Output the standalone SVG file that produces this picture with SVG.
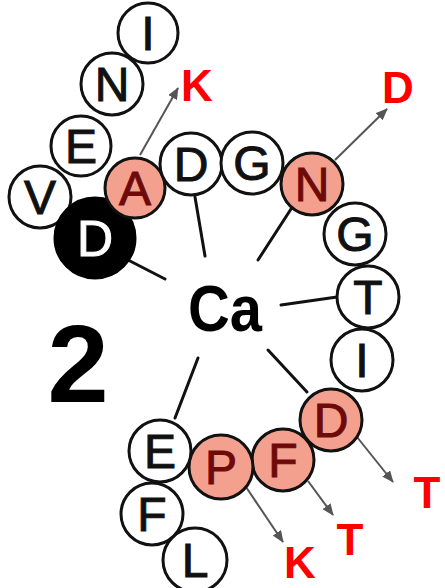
<svg xmlns="http://www.w3.org/2000/svg" width="445" height="588" viewBox="0 0 445 588">
<style>
.c{fill:#fff;stroke:#111;stroke-width:3}
.r{fill:#f4a08e;stroke:#111;stroke-width:3}
.k{fill:#000;stroke:#000;stroke-width:3}
.t{font-family:"Liberation Sans",Arial,sans-serif;font-size:48px;text-anchor:middle;fill:#111;stroke:#111;stroke-width:1}
.tr{font-family:"Liberation Sans",Arial,sans-serif;font-size:48px;text-anchor:middle;fill:#6e0a0a;stroke:#6e0a0a;stroke-width:1}
.tw{font-family:"Liberation Sans",Arial,sans-serif;font-size:50px;text-anchor:middle;fill:#fff;stroke:#fff;stroke-width:1}
.lab{font-family:"Liberation Sans",Arial,sans-serif;font-size:44px;font-weight:bold;text-anchor:middle;fill:#ff0000}
.sp{stroke:#111;stroke-width:3;stroke-linecap:round;fill:none}
.ar{stroke:#555;stroke-width:2;fill:none;marker-end:url(#ah)}
</style>
<defs>
<marker id="ah" viewBox="0 0 12 10" refX="11" refY="5" markerWidth="12" markerHeight="10" markerUnits="userSpaceOnUse" orient="auto">
<path d="M0,0 L12,5 L0,10 Z" fill="#555"/>
</marker>
</defs>
<g id="connectors">
<line class="sp" x1="195" y1="197" x2="205" y2="256"/>
<line class="sp" x1="291" y1="209" x2="258" y2="260"/>
<line class="sp" x1="337" y1="297" x2="281" y2="305"/>
<line class="sp" x1="268" y1="350" x2="307" y2="392"/>
<line class="sp" x1="198" y1="358" x2="175" y2="418"/>
<line class="sp" x1="130" y1="261" x2="165" y2="279"/>
<line class="ar" x1="140" y1="155" x2="178" y2="88"/>
<line class="ar" x1="335" y1="160" x2="387" y2="109"/>
<line class="ar" x1="357" y1="437" x2="393" y2="482"/>
<line class="ar" x1="308" y1="481" x2="333" y2="515"/>
<line class="ar" x1="246" y1="487" x2="283" y2="542"/>
</g>
<g id="n-I1"><circle class="c" cx="148" cy="33" r="30"/><text class="t" x="148" y="50">I</text></g>
<g id="n-N1"><circle class="c" cx="112" cy="84" r="31"/><text class="t" x="112" y="101">N</text></g>
<g id="n-E1"><circle class="c" cx="81" cy="146" r="30"/><text class="t" x="81" y="163">E</text></g>
<g id="n-V"><circle class="c" cx="40" cy="197" r="31"/><text class="t" x="40" y="214">V</text></g>
<g id="n-D1"><circle class="k" cx="95" cy="238" r="40"/><text class="tw" x="95" y="256">D</text></g>
<g id="n-A"><circle class="r" cx="135" cy="188" r="30"/><text class="tr" x="135" y="205">A</text></g>
<g id="n-D2"><circle class="c" cx="191" cy="164" r="31"/><text class="t" x="191" y="181">D</text></g>
<g id="n-G1"><circle class="c" cx="252" cy="163" r="31"/><text class="t" x="252" y="180">G</text></g>
<g id="n-N2"><circle class="r" cx="312" cy="184" r="31"/><text class="tr" x="312" y="201">N</text></g>
<g id="n-G2"><circle class="c" cx="355" cy="234" r="31"/><text class="t" x="355" y="251">G</text></g>
<g id="n-T"><circle class="c" cx="368" cy="297" r="31"/><text class="t" x="368" y="314">T</text></g>
<g id="n-I2"><circle class="c" cx="362" cy="360" r="31"/><text class="t" x="362" y="377">I</text></g>
<g id="n-D3"><circle class="r" cx="331" cy="420" r="31"/><text class="tr" x="331" y="437">D</text></g>
<g id="n-F1"><circle class="r" cx="283" cy="460" r="31"/><text class="tr" x="283" y="477">F</text></g>
<g id="n-P"><circle class="r" cx="221" cy="467" r="32"/><text class="tr" x="221" y="484">P</text></g>
<g id="n-L"><circle class="c" cx="195" cy="560" r="32"/><text class="t" x="195" y="577">L</text></g>
<g id="n-E2"><circle class="c" cx="160" cy="451" r="31"/><text class="t" x="160" y="468">E</text></g>
<g id="n-F2"><circle class="c" cx="152" cy="514" r="31"/><text class="t" x="152" y="531">F</text></g>
<g id="n-Ca"><text x="225" y="331" font-family="Liberation Sans,Arial,sans-serif" font-size="64" font-weight="bold" text-anchor="middle" textLength="74" lengthAdjust="spacingAndGlyphs">Ca</text></g>
<g id="n-2"><text x="78" y="402" font-family="Liberation Sans,Arial,sans-serif" font-size="110" font-weight="bold" text-anchor="middle">2</text></g>
<g id="labels">
<text class="lab" x="197" y="101">K</text>
<text class="lab" x="398" y="103">D</text>
<text class="lab" x="427" y="508">T</text>
<text class="lab" x="350" y="555">T</text>
<text class="lab" x="300" y="578">K</text>
</g>
</svg>
